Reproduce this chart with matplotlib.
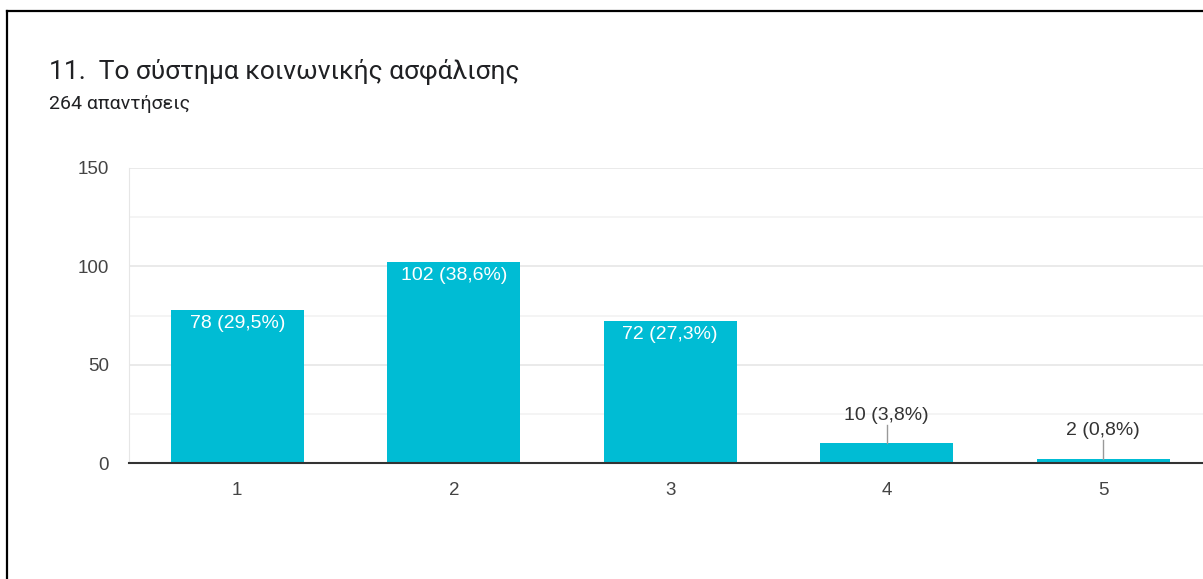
import matplotlib.pyplot as plt
from matplotlib.lines import Line2D

plt.rcParams['font.family'] = ['Roboto', 'DejaVu Sans']

# Данные
categories = ['1', '2', '3', '4', '5']
counts = [78, 102, 72, 10, 2]
labels = ['78 (29,5%)', '102 (38,6%)', '72 (27,3%)', '10 (3,8%)', '2 (0,8%)']
title = '11.  Το σύστημα κοινωνικής ασφάλισης'
subtitle = '264 απαντήσεις'

W, H = 1203, 579
fig = plt.figure(figsize=(W / 100, H / 100), dpi=100)

# Рамка карточки
fig.add_artist(Line2D([7 / W, 7 / W], [0, 1 - 11 / H], color='black', lw=1.6))
fig.add_artist(Line2D([7 / W, 1], [1 - 11 / H, 1 - 11 / H], color='black', lw=1.6))

fig.text(49 / W, 1 - 72 / H, title, fontsize=19, color='#202124', va='center')
fig.text(49 / W, 1 - 104 / H, subtitle, fontsize=14, color='#202124', va='center')

chart_font = ['Liberation Sans', 'DejaVu Sans']

ax = fig.add_axes([129 / W, 1 - 463 / H, 5 * 216.5 / W, 295 / H])
x = range(len(categories))
ax.bar(x, counts, width=0.615, color='#00bcd4', zorder=3)

ax.set_xlim(-0.5, 4.5)
ax.set_ylim(0, 150)
ax.set_yticks([0, 50, 100, 150])
ax.set_yticks([25, 75, 125], minor=True)
ax.set_xticks(list(x))
ax.set_xticklabels(categories)
ax.tick_params(axis='both', length=0, labelsize=13.5, labelcolor='#444444')
ax.tick_params(axis='y', pad=14.5)
ax.tick_params(axis='x', pad=14)
ax.tick_params(axis='y', which='minor', length=0)
for t in ax.get_xticklabels() + ax.get_yticklabels():
    t.set_family(chart_font)
ax.grid(axis='y', which='major', color='#e6e6e6', lw=1.2, zorder=0)
ax.grid(axis='y', which='minor', color='#f2f2f2', lw=1.2, zorder=0)

for s in ['top', 'right']:
    ax.spines[s].set_visible(False)
ax.spines['left'].set_color('#e6e6e6')
ax.spines['bottom'].set_color('#333333')
ax.spines['bottom'].set_linewidth(1.5)
ax.spines['bottom'].set_zorder(4)

for i, (v, lab) in enumerate(zip(counts, labels)):
    if v > 30:
        ax.text(i, v - 2.5, lab, ha='center', va='top', color='white', fontsize=14,
                family=chart_font, zorder=5)
    else:
        ax.plot([i, i], [v, v + 9.5], color='#999999', lw=1, zorder=4)
        ax.text(i, v + 10, lab, ha='center', va='bottom', color='#333333', fontsize=14,
                family=chart_font, zorder=5)

fig.savefig('out.png', dpi=100)
